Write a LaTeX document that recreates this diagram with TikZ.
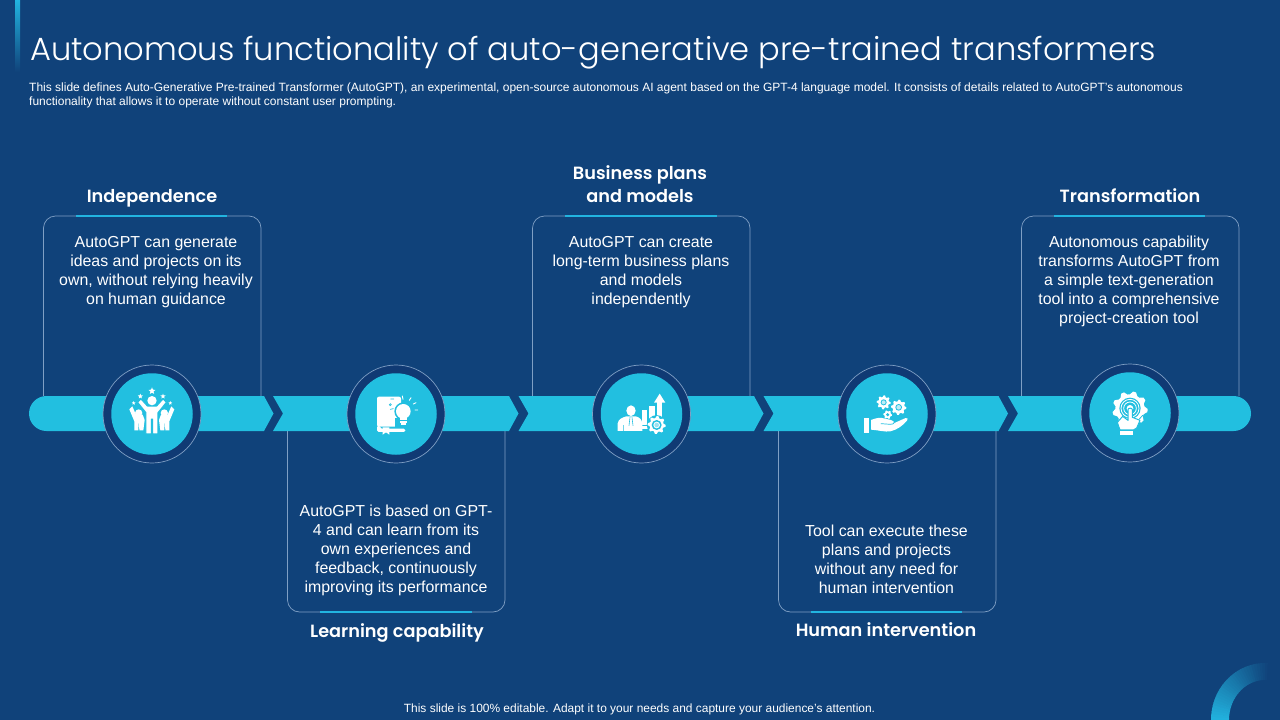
\documentclass[tikz,border=0pt]{standalone}
\usepackage{fontspec}
\setmainfont{Liberation Sans}
\newfontfamily\titlefont{Poppins Light}
\newfontfamily\headfont{Poppins SemiBold}
\definecolor{bgblue}{HTML}{10427A}
\definecolor{ringblue}{HTML}{103A74}
\definecolor{barcyan}{HTML}{22BFE0}
\definecolor{accent}{HTML}{22B4E0}
\definecolor{edgeblue}{HTML}{7F9FC4}
\tikzset{x=1pt,y=-1pt,
 bodytext/.style={text=white,font=\fontsize{15.9}{19}\selectfont,align=center,inner sep=0pt},
 headtext/.style={text=white,font=\headfont\fontsize{17.7}{23}\selectfont,align=center,inner sep=0pt},
 boxedge/.style={draw=edgeblue,line width=0.7pt},
 accentline/.style={draw=accent,line width=2.4pt},
 barseg/.style={fill=barcyan,draw=none},
 ringdisc/.style={fill=ringblue,draw=edgeblue,line width=0.7pt},
 icondisc/.style={fill=barcyan,draw=none},
 iconframe/.style={x=0.3333pt,y=-0.3333pt},
 cutline/.style={draw=barcyan,line width=#1,line cap=round},
 cutline/.default=1pt,
 whiteline/.style={draw=white,line width=#1,line cap=round},
 whiteline/.default=1pt,
}
\newcommand\mystar[3]{\fill[white] plot[samples at={0,...,9},variable=\i] ({#1+#3*(1-0.55*mod(\i,2))*sin(36*\i)},{#2-#3*(1-0.55*mod(\i,2))*cos(36*\i)}) -- cycle;}
% x, y, outer radius, root radius, teeth
\newcommand\mygear[5]{\pgfmathsetmacro\gearlast{int(4*#5-1)}\fill[white] plot[samples at={0,...,\gearlast},variable=\i] ({#1+(mod(\i,4)<2?#3:#4)*cos(90*\i/#5)},{#2+(mod(\i,4)<2?#3:#4)*sin(90*\i/#5)}) -- cycle;}
\begin{document}
\begin{tikzpicture}
\path[use as bounding box,fill=bgblue] (0,0) rectangle (1280,720);
\shade[top color=accent,bottom color=bgblue,draw=none] (15,0) rectangle (20,72);
\node[anchor=base west,text=white,font=\titlefont\fontsize{32.1}{38}\selectfont,inner sep=0pt] (title) at (30,60) {Autonomous functionality of auto-generative pre-trained transformers};
\node[anchor=north west,text=white,font=\fontsize{12}{14}\selectfont,align=left,inner sep=0pt] (sub) at (29,82.5) {This slide defines Auto-Generative Pre-trained Transformer (AutoGPT), an experimental, open-source autonomous AI agent based on the GPT-4 language model. It consists of details related to AutoGPT's autonomous\\functionality that allows it to operate without constant user prompting.};
\node[text=white,font=\fontsize{11.95}{14}\selectfont,inner sep=0pt] (foot) at (639.5,709) {This slide is 100\% editable. Adapt it to your needs and capture your audience's attention.};
% corner arc
\begin{scope}
\clip (1200,650) rectangle (1280,720);
\foreach \a in {78,81,...,198}{
 \pgfmathsetmacro\b{\a+3.6}
 \pgfmathtruncatemacro\o{min(100,max(0,(\a-84)*1.05))}
 \colorlet{arcmix}{accent!\o!bgblue}
 \fill[arcmix] ({1265+54*cos(\a)},{720-57*sin(\a)}) -- ({1265+54*cos(\b)},{720-57*sin(\b)}) -- ({1265+36*cos(\b)},{720-40*sin(\b)}) -- ({1265+36*cos(\a)},{720-40*sin(\a)}) -- cycle;
}
\end{scope}
% boxes
\draw[boxedge] (43.5,396) -- (43.5,228) arc[start angle=180,end angle=270,radius=12] -- (249,216) arc[start angle=270,end angle=360,radius=12] -- (261,396);
\draw[boxedge] (532.5,396) -- (532.5,228) arc[start angle=180,end angle=270,radius=12] -- (738,216) arc[start angle=270,end angle=360,radius=12] -- (750,396);
\draw[boxedge] (1021.5,396) -- (1021.5,228) arc[start angle=180,end angle=270,radius=12] -- (1227,216) arc[start angle=270,end angle=360,radius=12] -- (1239,396);
\draw[boxedge] (287.5,431) -- (287.5,600) arc[start angle=180,end angle=90,radius=12] -- (493,612) arc[start angle=90,end angle=0,radius=12] -- (505,431);
\draw[boxedge] (778.5,431) -- (778.5,600) arc[start angle=180,end angle=90,radius=12] -- (984,612) arc[start angle=90,end angle=0,radius=12] -- (996,431);
\draw[accentline] (76,216) -- (227,216);
\draw[accentline] (565,216) -- (717,216);
\draw[accentline] (1054,216) -- (1205,216);
\draw[accentline] (320,612) -- (472,612);
\draw[accentline] (811,612) -- (962,612);
% bar
\fill[barseg] (46.5,396) -- (264,396) -- (273.5,413.5) -- (264,431) -- (46.5,431) arc[start angle=90,end angle=270,radius=17.5] -- cycle;
\fill[barseg] (273,396) -- (509,396) -- (518.5,413.5) -- (509,431) -- (273,431) -- (283,413.5) -- cycle;
\fill[barseg] (518.5,396) -- (754,396) -- (763.5,413.5) -- (754,431) -- (518.5,431) -- (528.5,413.5) -- cycle;
\fill[barseg] (763.5,396) -- (998.5,396) -- (1008,413.5) -- (998.5,431) -- (763.5,431) -- (773.5,413.5) -- cycle;
\fill[barseg] (1008,396) -- (1233.5,396) arc[start angle=-90,end angle=90,radius=17.5] -- (1008,431) -- (1018,413.5) -- cycle;
% discs
\foreach \n/\x/\y in {a/152/414,b/396/414,c/641.5/414,d/887/414,e/1130/413}{
 \node[ringdisc,circle,minimum size=98pt,inner sep=0pt] (ring\n) at (\x,\y) {};
 \node[icondisc,circle,minimum size=81.5pt,inner sep=0pt] (disc\n) at (\x,\y) {};
}
% icon a: people
\begin{scope}[shift={(122,384)},iconframe]
\mystar{90}{21}{11}\mystar{55}{37}{8}\mystar{123}{37}{8}\mystar{35}{57}{6}\mystar{145}{57}{6}
% side people
\fill[white] (50,87) circle[radius=11];
\fill[white] (127,87) circle[radius=11];
\fill[white] (22,76) -- (31,67) -- (42,92) -- (62,92) -- (68,108) -- (64,139) -- (52,139) -- (51,118) -- (50,118) -- (49,139) -- (37,139) -- (37,112) -- cycle;
\fill[white] (157,76) -- (148,67) -- (137,92) -- (117,92) -- (111,108) -- (115,139) -- (127,139) -- (128,118) -- (129,118) -- (130,139) -- (142,139) -- (142,112) -- cycle;
% gap round the middle figure
\draw[cutline=1pt,fill=white,line join=round] (47,55) -- (57,45) -- (76,66) -- (104,66) -- (123,45) -- (133,55) -- (108,86) -- (108,150) -- (92,150) -- (92,105) -- (88,105) -- (88,150) -- (72,150) -- (72,86) -- cycle;
\fill[white] (90,50) circle[radius=14];
\end{scope}
% icon b: book and bulb
\begin{scope}[shift={(366,384)},iconframe]
\fill[white,rounded corners=2pt] (33,38) -- (105,38) -- (105,128) -- (33,128) -- cycle;
\draw[cutline=0.6pt] (40,129) -- (118,129);
\fill[white,rounded corners=1.5pt] (33,125) -- (33,144) -- (118,144) -- (118,134) -- (43,134) -- (43,125) -- cycle;
\fill[white] (50,130) -- (70,130) -- (70,152) -- (60,145) -- (50,152) -- cycle;
\fill[barcyan] (112,82) circle[radius=27];
\fill[barcyan] (88,103) rectangle (130,128);
\fill[white] (112,82) circle[radius=22];
\fill[white] (101,97) rectangle (123,109);
\fill[white] (102,111) rectangle (122,116);
\fill[white] (104,118) rectangle (120,123);
\draw[cutline=0.7pt] (74,45) -- (83,45) (73,62) circle[radius=3] (73,76) -- (82,74);
\draw[whiteline=0.9pt] (109,36) -- (111,46) (135,41) -- (130,49) (150,56) -- (142,60) (155,78) -- (147,78);
\end{scope}
% icon c: person, bars, arrow, gear
\begin{scope}[shift={(611,384)},iconframe]
\fill[white] (60,80) ellipse[x radius=14,y radius=16];
\fill[white] (20,141) -- (20,118) .. controls (22,105) and (35,100) .. (46,97) -- (74,97) .. controls (85,100) and (92,105) .. (94,118) -- (94,141) -- cycle;
\draw[cutline=0.6pt] (57,100) -- (54,125) (63,100) -- (66,125) (38,124) -- (38,141);
\fill[white] (92,78) rectangle (108,122);
\fill[white] (115,65) rectangle (131,106);
\fill[white] (139,55) rectangle (153,103);
\fill[white] (146,29) -- (163,56) -- (129,56) -- cycle;
\fill[white] (92,126) rectangle (115,134);
\draw[cutline=1pt,fill=barcyan] (137,123) circle[radius=28];
\mygear{137}{123}{27}{21}{8}
\fill[barcyan] (137,123) circle[radius=15];
\fill[white] (137,123) circle[radius=10];
\fill[barcyan!45!white] (137,123) circle[radius=7];
\end{scope}
% icon d: hand and gears
\begin{scope}[shift={(857,384)},iconframe]
\mygear{80}{55}{21}{16}{8}
\fill[barcyan] (80,55) circle[radius=9];
\fill[white!70!barcyan] (80,55) circle[radius=6];
\mygear{125}{70}{23}{18}{8}
\fill[barcyan] (125,70) circle[radius=10];
\fill[white!70!barcyan] (125,70) circle[radius=7];
\mygear{92}{92}{13}{10}{6}
\fill[barcyan] (92,92) circle[radius=5];
\fill[white] (22,103) rectangle (37,146);
\fill[white] (42,108) .. controls (55,103) and (68,99) .. (80,103) -- (102,108) .. controls (110,110) and (112,114) .. (110,118) -- (146,102) .. controls (151,100) and (155,106) .. (150,110) .. controls (138,124) and (120,138) .. (100,142) .. controls (85,145) and (62,138) .. (42,137) -- cycle;
\draw[cutline=0.7pt] (72,119) -- (100,121) .. controls (106,121) and (110,119) .. (111,117);
\end{scope}
% icon e: gear and touch hand
\begin{scope}[shift={(1100,383)},iconframe]
\mygear{90}{78}{53}{44}{9}
\fill[barcyan] (90,76) circle[radius=32];
\draw[white,line width=0.8pt] (90,76) circle[radius=27] (90,76) circle[radius=19];
\fill[white] (90,76) circle[radius=10];
\draw[cutline=1pt,fill=white,line join=round] (84,80) .. controls (84,74) and (97,74) .. (97,80) -- (97,103) -- (120,112) -- (110,135) -- (100,141) -- (60,141) -- (52,118) -- (68,100) -- (84,112) -- cycle;
\fill[white] (61,144) rectangle (100,155);
\draw[cutline=0.8pt] (118,108) -- (128,97);
\end{scope}
% text
\node[headtext,anchor=base] (h1) at (152,202) {Independence};
\node[headtext,anchor=base] (h2) at (397,637) {Learning capability};
\node[headtext,anchor=base] (h3) at (640,202.5) {Business plans\\and models};
\node[headtext,anchor=base] (h4) at (886,636) {Human intervention};
\node[headtext,anchor=base] (h5) at (1130,202) {Transformation};
\node[bodytext,anchor=north] (t1) at (156,236) {AutoGPT can generate\\ideas and projects on its\\own, without relying heavily\\on human guidance};
\node[bodytext,anchor=north] (t2) at (396,505) {AutoGPT is based on GPT-\\4 and can learn from its\\own experiences and\\feedback, continuously\\improving its performance};
\node[bodytext,anchor=north] (t3) at (641,236) {AutoGPT can create\\long-term business plans\\and models\\independently};
\node[bodytext,anchor=north] (t4) at (886.5,525) {Tool can execute these\\plans and projects\\without any need for\\human intervention};
\node[bodytext,anchor=north] (t5) at (1129,236) {Autonomous capability\\transforms AutoGPT from\\a simple text-generation\\tool into a comprehensive\\project-creation tool};
\end{tikzpicture}
\end{document}
